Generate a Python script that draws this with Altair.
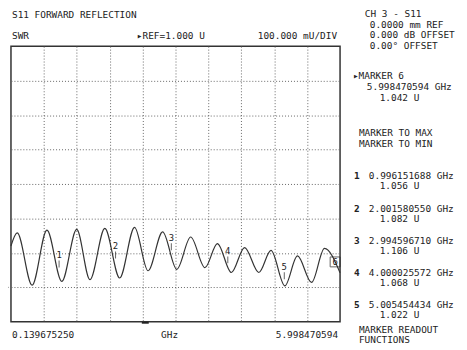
import altair as alt
import pandas as pd

# ---------------- data ----------------
f_start = 0.139675250
f_stop = 5.998470594
ref_value = 1.000
div_value = 0.100

trace_ghz = [0.1397, 0.251, 0.516, 0.780, 1.045, 1.310, 1.546, 1.811, 2.075, 2.340,
             2.580, 2.840, 3.092, 3.339, 3.593, 3.815, 4.063, 4.299, 4.552, 4.769,
             5.016, 5.240, 5.492, 5.721, 5.9985]
trace_swr = [1.120, 1.158, 1.006, 1.166, 1.017, 1.168, 1.022, 1.171, 1.027, 1.174,
             1.048, 1.161, 1.052, 1.146, 1.057, 1.127, 1.043, 1.115, 1.043, 1.107,
             1.004, 1.091, 1.014, 1.113, 1.042]

marker_id = ["1", "2", "3", "4", "5"]
marker_ghz = [0.996151688, 2.001580550, 2.994596710, 4.000025572, 5.005454434]
marker_swr = [1.056, 1.082, 1.106, 1.068, 1.022]

active_marker = "6"
active_ghz = 5.998470594
active_swr = 1.042

# ---------------- chart ----------------
W, H = 332, 278
FONT = "DejaVu Sans Mono"
FS = 9.5
INK = "#222222"

trace_df = pd.DataFrame({"f": trace_ghz, "swr": trace_swr})
mk_df = pd.DataFrame({"id": marker_id, "f": marker_ghz, "swr": marker_swr})
act_df = pd.DataFrame({"id": [active_marker], "f": [active_ghz], "swr": [active_swr]})

x_grid = [f_start + k * (f_stop - f_start) / 10 for k in range(1, 10)]
y_grid = [round(ref_value + k * div_value, 3) for k in range(0, 7)]

xs = alt.Scale(domain=[f_start, f_stop], nice=False, zero=False)
ys = alt.Scale(domain=[ref_value - div_value, ref_value + 7 * div_value], nice=False, zero=False)

xax = alt.Axis(values=x_grid, grid=True, gridDash=[1, 2], gridColor="#666666", gridWidth=1,
               labels=False, ticks=False, domain=False, title=None)
yax = alt.Axis(values=y_grid, grid=True, gridDash=[1, 2], gridColor="#666666", gridWidth=1,
               labels=False, ticks=False, domain=False, title=None)

trace = alt.Chart(trace_df).mark_line(color="#333333", strokeWidth=1.2, interpolate="monotone").encode(
    x=alt.X("f:Q", scale=xs, axis=xax),
    y=alt.Y("swr:Q", scale=ys, axis=yax),
)

mk_text = alt.Chart(mk_df).mark_text(font=FONT, fontSize=9, color=INK, dy=-13).encode(
    x=alt.X("f:Q", scale=xs), y=alt.Y("swr:Q", scale=ys), text="id:N")
mk_tick = alt.Chart(mk_df).mark_tick(orient="vertical", size=7, thickness=1, color=INK, yOffset=-4).encode(
    x=alt.X("f:Q", scale=xs), y=alt.Y("swr:Q", scale=ys))

act_box = alt.Chart(act_df).mark_point(shape="square", size=100, filled=False, color=INK,
                                       strokeWidth=1, xOffset=-5, yOffset=-11).encode(
    x=alt.X("f:Q", scale=xs), y=alt.Y("swr:Q", scale=ys))
act_text = alt.Chart(act_df).mark_text(font=FONT, fontSize=9, color=INK, dx=-5, dy=-11).encode(
    x=alt.X("f:Q", scale=xs), y=alt.Y("swr:Q", scale=ys), text="id:N")

ref_arrow = alt.Chart(pd.DataFrame({"r": [ref_value]})).mark_point(
    shape="triangle-right", size=18, filled=True, color=INK, opacity=1).encode(
    x=alt.value(-4), y=alt.Y("r:Q", scale=ys))

cursor = alt.Chart(pd.DataFrame({"a": [0]})).mark_rule(color=INK, strokeWidth=2).encode(
    x=alt.value(132), x2=alt.value(139), y=alt.value(279))

OX, OY = 11, 45  # page position of plot origin


def label(text, X, Y, align="left", bold=False, size=FS):
    return alt.Chart(pd.DataFrame({"t": [text]})).mark_text(
        font=FONT, fontSize=size, color=INK, align=align, baseline="middle",
        fontWeight="bold" if bold else "normal").encode(
        x=alt.value(X - OX), y=alt.value(Y - OY), text="t:N")


texts = [
    label("S11 FORWARD REFLECTION", 12, 14),
    label("SWR", 12, 35),
    label("\u25b8REF=1.000 U", 138, 35),
    label("100.000 mU/DIV", 340, 35, align="right"),
    label("CH 3 - S11", 368, 13),
    label("0.0000 mm REF", 373, 23.5),
    label("0.000 dB OFFSET", 373, 34),
    label("0.00\u00b0    OFFSET", 373, 44.5),
    label("\u25b8MARKER 6", 356, 75),
    label("5.998470594 GHz", 370, 86),
    label("1.042 U", 383, 97),
    label("MARKER TO MAX", 362, 133),
    label("MARKER TO MIN", 362, 144),
    label("0.139675250", 12, 336),
    label("GHz", 171, 336, align="center"),
    label("5.998470594", 341, 336, align="right"),
    label("MARKER READOUT", 362, 331),
    label("FUNCTIONS", 362, 341),
]

rows_y = [176, 209, 242, 274, 306]
for mid, f, s, yy in zip(marker_id, marker_ghz, marker_swr, rows_y):
    texts.append(label(mid, 357, yy, bold=True))
    texts.append(label(f"{f:.9f} GHz", 372, yy))
    texts.append(label(f"{s:.3f} U", 383, yy + 10))

chart = alt.layer(trace, mk_tick, mk_text, act_box, act_text, ref_arrow, cursor, *texts).properties(
    width=W, height=H,
    autosize=alt.AutoSizeParams(type="none"),
    padding={"left": OX - 8, "top": OY - 8, "right": 120, "bottom": 25},
    background="white",
).configure_view(stroke="#333333", strokeWidth=1.5)

chart.save("out.html", embed_options={"renderer": "svg", "actions": False})
